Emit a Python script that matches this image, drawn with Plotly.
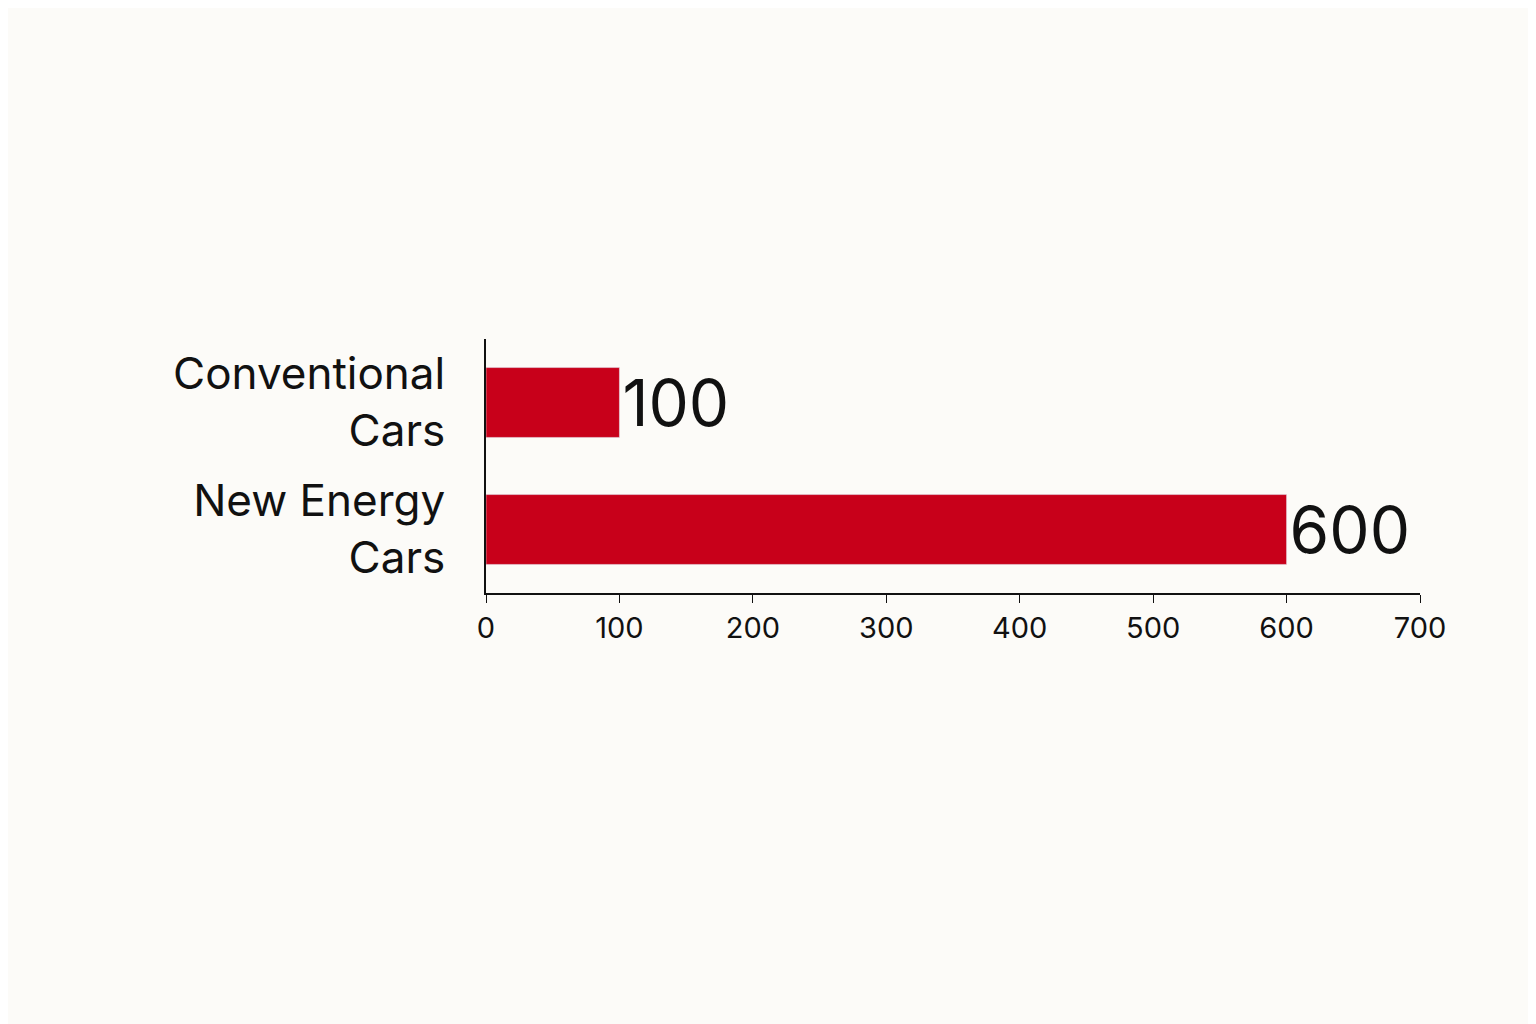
import plotly.graph_objects as go

categories = ["Conventional<br>Cars", "New Energy<br>Cars"]
values = [100, 600]
value_labels = ["100", "600"]
x_ticks = [0, 100, 200, 300, 400, 500, 600, 700]

fig = go.Figure(go.Bar(
    x=values,
    y=categories,
    orientation="h",
    marker_color="#c8001a",
    text=value_labels,
    textposition="outside",
    textfont=dict(size=64, color="#111111"),
    cliponaxis=False,
))

fig.update_layout(
    width=1536, height=1024,
    paper_bgcolor="#fcfbf8", plot_bgcolor="#fcfbf8",
    font=dict(family="Inter, Liberation Sans, sans-serif", color="#111111"),
    margin=dict(l=478, r=124, t=331, b=439),
    bargap=0.45,
    uniformtext=dict(minsize=64, mode="show"),
    showlegend=False,
)
fig.update_xaxes(
    range=[0, 700], tickvals=x_ticks, showgrid=False, zeroline=False,
    showline=True, linecolor="#111111", linewidth=2,
    ticks="outside", ticklen=8, tickcolor="#111111",
    tickfont=dict(size=29),
)
fig.update_yaxes(
    autorange="reversed", showgrid=False, zeroline=False,
    showline=True, linecolor="#111111", linewidth=2,
    ticks="", ticklabelstandoff=30,
    tickfont=dict(size=44),
)

fig.write_html("out.html")
